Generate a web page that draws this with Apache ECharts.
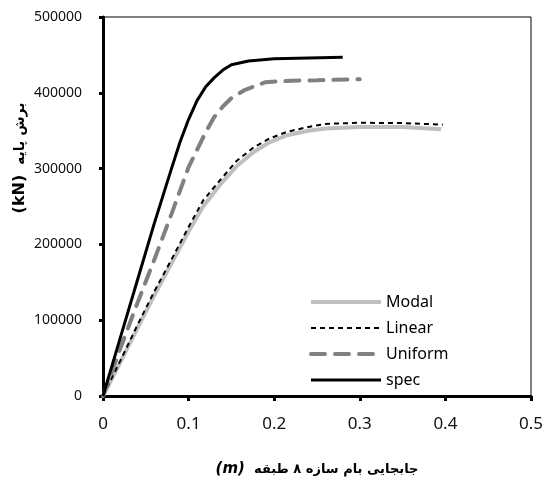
<!DOCTYPE html>
<html>
<head>
<meta charset="utf-8">
<script src="https://cdn.jsdelivr.net/npm/echarts@6/dist/echarts.min.js"></script>
<style>
  html, body { margin: 0; padding: 0; background: #fff; }
  #main { width: 549px; height: 484px; }
</style>
</head>
<body>
<div id="main"></div>
<script>
// pushover curves: [roof displacement (m), base shear (kN)]
let modalData = [[0, 0], [0.02, 44000], [0.04, 89000], [0.06, 133000], [0.08, 175000], [0.1, 217000],
    [0.117, 250000], [0.137, 279000], [0.156, 303000], [0.176, 322000], [0.195, 335000], [0.215, 344000],
    [0.24, 350000], [0.26, 353000], [0.3, 355000], [0.35, 355000], [0.395, 352000]];
let linearData = [[0, 0], [0.02, 46000], [0.04, 93000], [0.06, 138000], [0.08, 180000], [0.1, 223000],
    [0.117, 258000], [0.137, 285000], [0.156, 310000], [0.176, 328000], [0.195, 340000], [0.215, 348500],
    [0.24, 355000], [0.26, 359000], [0.3, 360500], [0.35, 360000], [0.397, 358000]];
let uniformData = [[0, 0], [0.02, 62000], [0.04, 122000], [0.06, 180000], [0.08, 240000], [0.1, 302000],
    [0.11, 325000], [0.12, 348000], [0.13, 368000], [0.14, 382000], [0.15, 393000], [0.166, 404000],
    [0.19, 414000], [0.22, 416000], [0.25, 416500], [0.3, 418000]];
let specData = [[0, 0], [0.02, 76000], [0.04, 152000], [0.06, 228000], [0.08, 300000], [0.09, 335000],
    [0.1, 365000], [0.11, 390000], [0.12, 408000], [0.13, 420000], [0.14, 430000], [0.15, 437000],
    [0.17, 442000], [0.2, 445000], [0.28, 447000]];
let seriesNames = ["Modal", "Linear", "Uniform", "spec"];

let colors = ["#bfbfbf", "#000", "#808080", "#000"];
let widths = [4, 2, 4, 3];
let dashes = ["solid", [5, 4], [14, 10], "solid"];

let dom = document.getElementById("main");
let myChart = echarts.init(dom, null, { renderer: "canvas" });

let option = {
    backgroundColor: "#fff",
    animation: false,
    grid: {
        left: 103,
        right: 18,
        top: 17,
        bottom: 88,
        show: true,
        borderColor: "#000",
        borderWidth: 1,
    },
    legend: {
        data: seriesNames.map(function (n, i) {
            return { name: n, lineStyle: { color: colors[i], width: widths[i], type: dashes[i] } };
        }),
        orient: "vertical",
        left: 304,
        top: 289,
        itemWidth: 70,
        itemHeight: 14,
        itemGap: 10,
        itemStyle: { opacity: 0 },
        textStyle: { fontSize: 16, color: "#000", fontFamily: "Noto Sans" },
    },
    graphic: [
        {
            type: "text",
            x: 20,
            y: 158,
            rotation: Math.PI / 2,
            style: {
                text: "{k|(kN)}{b|  برش پایه}",
                align: "center",
                verticalAlign: "middle",
                rich: {
                    k: { fontSize: 16, fontWeight: "bold", fontFamily: "DejaVu Sans", fill: "#000" },
                    b: { fontSize: 14, fontWeight: "bold", fontFamily: "DejaVu Sans", fill: "#000" },
                },
            },
        },
    ],
    xAxis: {
        type: "value",
        min: 0,
        max: 0.5,
        interval: 0.1,
        name: "{i|(m)}{b|  جابجایی بام سازه ۸ طبقه}",
        nameLocation: "middle",
        nameGap: 66,
        nameTextStyle: {
            rich: {
                i: { fontSize: 15, fontWeight: "bold", fontStyle: "italic", fontFamily: "DejaVu Sans", color: "#000" },
                b: { fontSize: 13, fontWeight: "bold", fontFamily: "DejaVu Sans", color: "#000" },
            },
        },
        axisLine: { lineStyle: { color: "#000", width: 3 } },
        axisTick: { show: true, length: 5, lineStyle: { color: "#000", width: 3 } },
        axisLabel: { margin: 20, fontSize: 17, color: "#111", fontFamily: "Noto Sans" },
        splitLine: { show: false },
    },
    yAxis: {
        type: "value",
        min: 0,
        max: 500000,
        interval: 100000,
        axisLine: { show: true, lineStyle: { color: "#000", width: 3 } },
        axisTick: { show: true, length: 4, lineStyle: { color: "#000", width: 3 } },
        axisLabel: {
            margin: 21,
            fontSize: 14,
            color: "#111",
            fontFamily: "Noto Sans",
            formatter: function (v) { return String(v); },
        },
        splitLine: { show: false },
    },
    series: [modalData, linearData, uniformData, specData].map(function (d, i) {
        return {
            name: seriesNames[i],
            type: "line",
            data: d,
            symbol: "none",
            lineStyle: { color: colors[i], width: widths[i], type: dashes[i], cap: i === 2 ? "round" : "butt" },
            itemStyle: { color: colors[i] },
        };
    }),
};

if (option && typeof option === "object") {
    myChart.setOption(option);
}

window.addEventListener("resize", myChart.resize);
</script>
</body>
</html>
